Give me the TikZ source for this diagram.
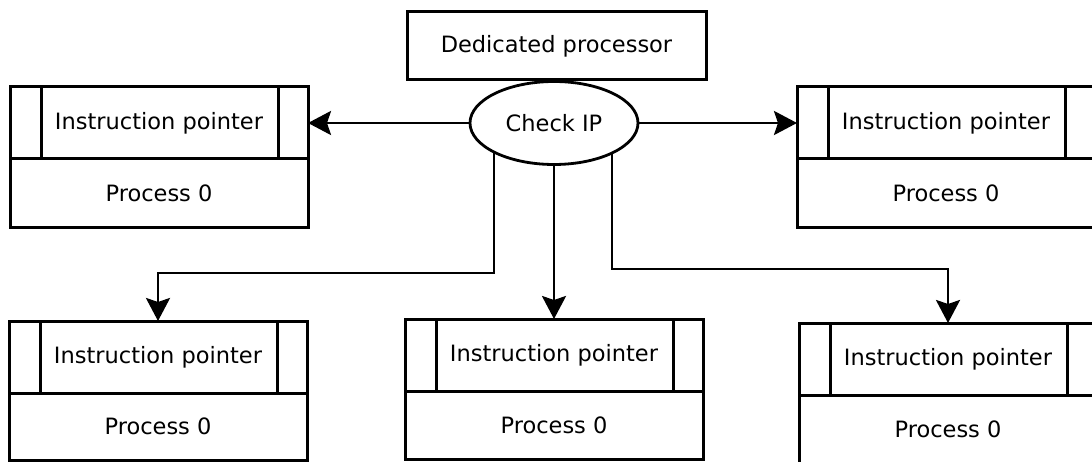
\documentclass[tikz,border=0pt]{standalone}
\usepackage{fontspec}
\setmainfont{DejaVu Sans}
\usetikzlibrary{arrows.meta,backgrounds,shapes.geometric}

\tikzset{
  boxline/.style={draw, line width=3pt},
  label font/.style={font=\fontsize{22.5}{26}\selectfont},
  ipbox/.style={boxline, rectangle, label font, minimum width=298pt,
    minimum height=72pt, inner sep=0pt, outer sep=0pt, anchor=north west},
  procpart/.style={boxline, rectangle, label font, minimum width=298pt,
    inner sep=0pt, outer sep=0pt, anchor=north},
  cpubox/.style={boxline, rectangle, label font, minimum width=299pt,
    minimum height=68pt, inner sep=0pt},
  checknode/.style={draw, line width=2.8pt, ellipse, fill=white, label font,
    minimum width=168pt, minimum height=83pt, inner sep=0pt},
  conn/.style={line width=2.8pt, -{Stealth[length=23pt,width=24pt,inset=4pt]}},
}

% process block: instruction pointer strip with side panels over the process body
% #1 name, #2 left x, #3 top y, #4 height of the process body
\newcommand\procbox[4]{%
  \node[ipbox] (#1-ip) at (#2,#3) {Instruction pointer};
  \node[procpart, minimum height=#4pt] (#1-p) at (#1-ip.south) {Process 0};
  \draw[boxline] ([xshift=31pt]#1-ip.north west) -- ([xshift=31pt]#1-ip.south west);
  \draw[boxline] ([xshift=-30pt]#1-ip.north east) -- ([xshift=-30pt]#1-ip.south east);
}

\begin{document}
\begin{tikzpicture}[x=1pt, y=-1pt]
  \useasboundingbox (0,0) rectangle (1092,462);

  \node[cpubox] (cpu) at (556.5,46) {Dedicated processor};
  \node[checknode] (chk) at (554,123) {Check IP};

  \procbox{tl}{10}{87}{69}
  \procbox{tr}{797}{87}{69}
  \procbox{bl}{9}{321}{67}
  \procbox{bm}{405}{319}{68}
  \procbox{br}{799}{323}{69}

  \draw[conn] (chk.west) -- (tl-ip.east);
  \draw[conn] (chk.east) -- (tr-ip.west);
  \draw[conn] (chk.south -| bm-ip.north) -- (bm-ip.north);

  % elbow connectors start under the ellipse fill
  \begin{scope}[on background layer]
    \draw[conn] ([xshift=-60pt]chk.center) -- ++(0,150) -| (bl-ip.north);
    \draw[conn] ([xshift=58pt]chk.center) -- ++(0,146) -| (br-ip.north);
  \end{scope}
\end{tikzpicture}
\end{document}
